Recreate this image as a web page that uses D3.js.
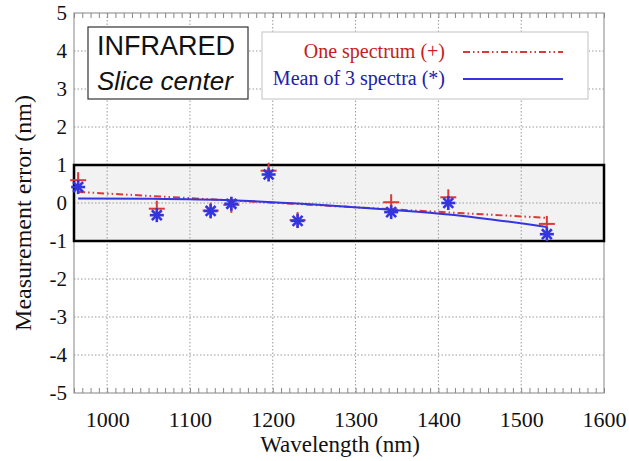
<!DOCTYPE html>
<html><head><meta charset="utf-8">
<script src="https://cdn.jsdelivr.net/npm/d3@7"></script>
<style>body{margin:0;background:#fff}svg{display:block}
.serif{font-family:"Liberation Serif","Tinos","Times New Roman","DejaVu Serif","Noto Serif",serif}
.sans{font-family:"Liberation Sans",Arial,Helvetica,sans-serif}
</style>
</head><body>
<script>
// Data
const wavelengths = [965, 1060, 1125, 1150, 1195, 1230, 1343, 1412, 1531];
const oneSpectrum = [0.6, -0.15, -0.2, -0.05, 0.85, -0.45, 0.02, 0.15, -0.55];
const meanOf3 = [0.42, -0.32, -0.21, -0.02, 0.75, -0.47, -0.24, 0.0, -0.82];
// linear trend of "one spectrum" (endpoints read)
const redFitX = [965, 1531];
const redFitY = [0.29, -0.39];
// curved trend of "mean of 3 spectra"
const blueFitX = [965, 1050, 1150, 1250, 1343, 1412, 1531];
const blueFitY = [0.12, 0.11, 0.07, -0.04, -0.18, -0.3, -0.63];
const xTicks = [1000, 1100, 1200, 1300, 1400, 1500, 1600];
const yTicks = [5, 4, 3, 2, 1, 0, -1, -2, -3, -4, -5];
const band = [-1, 1];
const legendLabels = ["One spectrum (+)", "Mean of 3 spectra (*)"];
const boxLabels = ["INFRARED", "Slice center"];

const W = 629, H = 461;
const svg = d3.select("body").append("svg").attr("width", W).attr("height", H);
const x = d3.scaleLinear().domain([960, 1600]).range([74, 604]);
const y = d3.scaleLinear().domain([-5, 5]).range([393, 13]);
const red = "#d83a3a", blue = "#3434e0";

// band
svg.append("rect").attr("x", x(960)).attr("y", y(band[1]))
  .attr("width", x(1600) - x(960)).attr("height", y(band[0]) - y(band[1]))
  .attr("fill", "#f2f2f2");

// grid
const g = svg.append("g");
g.selectAll(".gx").data(xTicks.filter(d => d < 1600)).join("line")
  .attr("x1", d => x(d)).attr("x2", d => x(d)).attr("y1", y(5)).attr("y2", y(-5))
  .attr("stroke", "#999").attr("stroke-width", 1).attr("stroke-dasharray", "1.5,2");
g.selectAll(".gy").data(yTicks.filter(d => d < 5 && d > -5)).join("line")
  .attr("y1", d => y(d)).attr("y2", d => y(d)).attr("x1", x(960)).attr("x2", x(1600))
  .attr("stroke", "#999").attr("stroke-width", 1).attr("stroke-dasharray", "1.5,2");

// frame
svg.append("rect").attr("x", x(960)).attr("y", y(5)).attr("width", x(1600) - x(960))
  .attr("height", y(-5) - y(5)).attr("fill", "none").attr("stroke", "#999").attr("stroke-width", 1.2);

// minor ticks on top and bottom
const minor = d3.range(960, 1601, 10);
svg.append("g").call(d3.axisTop(x).tickValues(minor).tickSize(-5).tickFormat(""))
  .attr("transform", `translate(0,${y(5)})`).call(s => { s.select(".domain").remove(); s.selectAll("line").attr("stroke", "#888"); });
svg.append("g").call(d3.axisBottom(x).tickValues(minor).tickSize(-5).tickFormat(""))
  .attr("transform", `translate(0,${y(-5)})`).call(s => { s.select(".domain").remove(); s.selectAll("line").attr("stroke", "#888"); });

// tick labels
const xa = svg.append("g").attr("transform", `translate(0,${y(-5)})`)
  .call(d3.axisBottom(x).tickValues(xTicks).tickSize(0).tickPadding(18).tickFormat(d3.format("d")));
xa.select(".domain").remove();
xa.attr("font-family", null).attr("font-size", null);
xa.selectAll("text").attr("class", "serif").style("font-size", "22px").attr("fill", "#111");
const ya = svg.append("g").attr("transform", `translate(${x(960)},0)`)
  .call(d3.axisLeft(y).tickValues(yTicks).tickSize(0).tickPadding(7).tickFormat(d => String(d)));
ya.select(".domain").remove();
ya.attr("font-family", null).attr("font-size", null);
ya.selectAll("text").attr("class", "serif").style("font-size", "21px").attr("fill", "#111");

// band border
svg.append("rect").attr("x", x(960)).attr("y", y(band[1]))
  .attr("width", x(1600) - x(960)).attr("height", y(band[0]) - y(band[1]))
  .attr("fill", "none").attr("stroke", "#000").attr("stroke-width", 2.5);

// trend lines
const line = d3.line().x(d => x(d[0])).y(d => y(d[1]));
svg.append("path").datum(d3.zip(redFitX, redFitY)).attr("d", line)
  .attr("fill", "none").attr("stroke", red).attr("stroke-width", 2)
  .attr("stroke-dasharray", "7,3,1.5,3,1.5,3");
svg.append("path").datum(d3.zip(blueFitX, blueFitY)).attr("d", line.curve(d3.curveMonotoneX))
  .attr("fill", "none").attr("stroke", blue).attr("stroke-width", 2);

// markers
const plus = svg.append("g").selectAll("g").data(d3.zip(wavelengths, oneSpectrum)).join("g")
  .attr("transform", d => `translate(${x(d[0])},${y(d[1])})`);
plus.append("line").attr("x1", -8).attr("x2", 8).attr("stroke", red).attr("stroke-width", 2);
plus.append("line").attr("y1", -8).attr("y2", 8).attr("stroke", red).attr("stroke-width", 2);
const star = svg.append("g").selectAll("g").data(d3.zip(wavelengths, meanOf3)).join("g")
  .attr("transform", d => `translate(${x(d[0])},${y(d[1])})`);
[0, 45, 90, 135].forEach(a => {
  star.append("line").attr("x1", -7).attr("x2", 7).attr("transform", `rotate(${a})`)
    .attr("stroke", blue).attr("stroke-width", 2.6);
});

// INFRARED box
svg.append("rect").attr("x", 88).attr("y", 27).attr("width", 160).attr("height", 72)
  .attr("fill", "#fff").attr("stroke", "#333").attr("stroke-width", 1.2);
svg.append("text").attr("class", "sans").attr("x", 97).attr("y", 55).text(boxLabels[0])
  .style("font-size", "27px").attr("fill", "#111");
svg.append("text").attr("class", "sans").attr("x", 97).attr("y", 90).text(boxLabels[1])
  .style("font-style", "italic").style("font-size", "26px").attr("fill", "#111");

// legend
svg.append("rect").attr("x", 262).attr("y", 32).attr("width", 326).attr("height", 67)
  .attr("fill", "#fff").attr("stroke", "#ccc").attr("stroke-width", 1.2);
svg.append("text").attr("class", "serif").attr("x", 445).attr("y", 58).attr("text-anchor", "end").text(legendLabels[0])
  .style("font-size", "20px").attr("fill", "#c42020");
svg.append("text").attr("class", "serif").attr("x", 445).attr("y", 85).attr("text-anchor", "end").text(legendLabels[1])
  .style("font-size", "20px").attr("fill", "#2020a8");
svg.append("line").attr("x1", 463).attr("x2", 563).attr("y1", 52).attr("y2", 52)
  .attr("stroke", red).attr("stroke-width", 2).attr("stroke-dasharray", "7,3,1.5,3,1.5,3");
svg.append("line").attr("x1", 463).attr("x2", 563).attr("y1", 79).attr("y2", 79)
  .attr("stroke", blue).attr("stroke-width", 2);

// axis titles
svg.append("text").attr("class", "serif").attr("x", 340).attr("y", 452).attr("text-anchor", "middle")
  .text("Wavelength (nm)").style("font-size", "23px").attr("fill", "#111");
svg.append("text").attr("class", "serif").attr("transform", "translate(31,213) rotate(-90)").attr("text-anchor", "middle")
  .text("Measurement error (nm)").style("font-size", "24px").attr("fill", "#111");
</script>
</body></html>
